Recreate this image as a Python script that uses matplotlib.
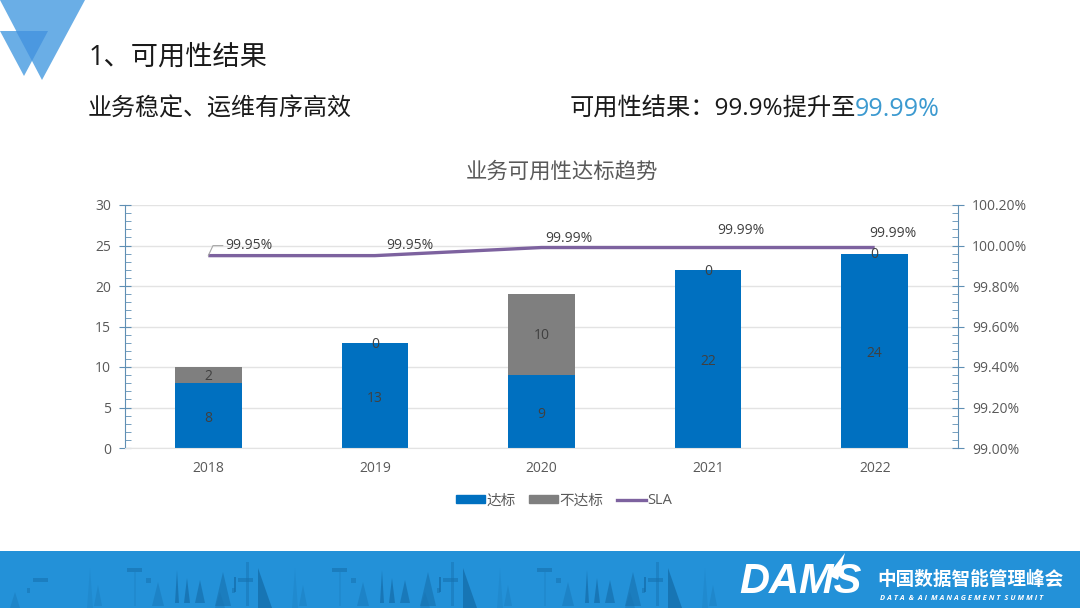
"""Availability slide: stacked bars with SLA line on a secondary axis."""

import matplotlib

matplotlib.use("Agg")
import matplotlib.pyplot as plt
from matplotlib.lines import Line2D
from matplotlib.patches import Patch, Polygon, Rectangle
from matplotlib.ticker import FuncFormatter, MultipleLocator

plt.rcParams["font.family"] = ["Open Sans", "Noto Sans CJK SC", "DejaVu Sans"]

W, H = 1080, 608

years = ["2018", "2019", "2020", "2021", "2022"]
passed = [8, 13, 9, 22, 24]
failed = [2, 0, 10, 0, 0]
sla = [99.95, 99.95, 99.99, 99.99, 99.99]
sla_label_offsets = [(41, 10), (35, 10), (27, 9), (33, 17), (18, 14)]

BLUE = "#0070C0"
GREY = "#7F7F7F"
PURPLE = "#7D629F"
TEXT = "#404040"
AXIS = "#5F8FB4"
GRID = "#E3E3E3"
BANNER = "#2391D8"
SKYLINE = "#1670AE"

# footer skyline, one repeat of the pattern: (x, half width, top y, bottom y, alpha)
spires = [
    (15, 5, 592, 608, 0.35), (90, 3, 568, 608, 0.2), (98, 4, 585, 606, 0.3),
    (158, 6, 582, 606, 0.4), (177, 2, 570, 603, 0.8), (187, 3, 578, 603, 0.8),
    (200, 5, 580, 603, 0.7),
]
# (x0, x1, y0, y1, alpha) of the small blocks and decks
blocks = [
    (27, 2.5, 588, 593, 0.5), (33, 15, 578, 582, 0.55), (127, 15, 568, 572, 0.6),
    (134, 1.5, 572, 606, 0.2), (146, 5, 578, 583, 0.5),
]
SKYLINE_PERIOD = 205


def draw_slide(fig):
    bg = fig.add_axes([0, 0, 1, 1], zorder=0)
    bg.set_xlim(0, W)
    bg.set_ylim(H, 0)
    bg.axis("off")

    # corner logo
    bg.add_patch(Polygon([(0, 0), (85, 0), (42, 80)], color="#6AAEE6", lw=0))
    bg.add_patch(Polygon([(0, 31), (48, 31), (24, 76)], color="#6AAEE6", lw=0))
    bg.add_patch(Polygon([(16, 31), (48, 31), (32, 61)], color="#4B98E0", lw=0))

    bg.text(89, 58, "1、可用性结果", fontsize=19.6, color="#1A1A1A", va="center")
    bg.text(88, 110, "业务稳定、运维有序高效", fontsize=17.3, color="#1A1A1A", va="center")
    bg.text(570, 110, "可用性结果：99.9%提升至", fontsize=17.5, color="#1A1A1A", va="center")
    bg.text(855, 110, "99.99%", fontsize=18, color="#3C9AD0", va="center")
    bg.text(561.5, 172, "业务可用性达标趋势", fontsize=15.4, color="#595959",
            ha="center", va="center")

    # footer band
    bg.add_patch(Rectangle((0, 551), W, 57, color=BANNER, lw=0))
    for shift in range(0, 4):
        off = shift * SKYLINE_PERIOD
        for x, half, top, low, alpha in spires:
            if x + off < 735:
                bg.add_patch(Polygon([(x + off - half, low), (x + off, top), (x + off + half, low)],
                                     color=SKYLINE, alpha=alpha, lw=0))
        for x, width, y0, y1, alpha in blocks:
            if x + off < 735:
                bg.add_patch(Rectangle((x + off, y0), width, y1 - y0, color=SKYLINE, alpha=alpha, lw=0))
        # the hatched tower, the tall column and the dark sail
        if off < 500:
            bg.add_patch(Polygon([(215 + off, 606), (223 + off, 572), (231 + off, 606)],
                                 color=SKYLINE, alpha=0.6, lw=0))
            bg.add_patch(Rectangle((234 + off, 577), 2, 15, color=SKYLINE, alpha=0.8, lw=0))
            bg.add_patch(Rectangle((246 + off, 562), 2.5, 44, color=SKYLINE, alpha=0.45, lw=0))
            bg.add_patch(Polygon([(258 + off, 608), (258 + off, 568), (272 + off, 608)],
                                 color=SKYLINE, alpha=0.85, lw=0))

    bg.text(739, 582, "DAMS", fontsize=30, color="white", fontweight="bold",
            style="italic", family="Liberation Sans", va="center")
    bg.add_patch(Polygon([(828, 575), (845, 553), (838, 580)], color="white", lw=0))
    bg.text(970, 580, "中国数据智能管理峰会", fontsize=13.4, color="white",
            fontweight="bold", ha="center", va="center")
    bg.text(962, 598, "D A T A  &  A I  M A N A G E M E N T  S U M M I T", fontsize=5.4,
            color="white", fontweight="bold", style="italic", family="Open Sans",
            ha="center", va="center")


def draw_chart(fig):
    left, right, top, bottom = 125, 958, 205, 448
    ax = fig.add_axes([left / W, 1 - bottom / H, (right - left) / W, (bottom - top) / H],
                      zorder=1)
    ax.patch.set_alpha(0)
    x = range(len(years))
    ax.bar(x, passed, width=0.4, color=BLUE, zorder=2)
    ax.bar(x, failed, width=0.4, bottom=passed, color=GREY, zorder=2)
    ax.set_xlim(-0.5, 4.5)
    ax.set_ylim(0, 30)
    ax.set_xticks(list(x))
    ax.set_xticklabels(years)
    ax.tick_params(axis="x", length=0, labelsize=10, labelcolor="#595959", pad=9)
    ax.yaxis.set_major_locator(MultipleLocator(5))
    ax.yaxis.set_minor_locator(MultipleLocator(1))
    ax.tick_params(axis="y", which="major", direction="inout", length=8, color=AXIS,
                   labelsize=10, labelcolor="#595959", pad=6)
    ax.tick_params(axis="y", which="minor", direction="in", length=4, color=AXIS)
    ax.grid(axis="y", which="major", color=GRID, lw=1)
    ax.set_axisbelow(True)
    for name, spine in ax.spines.items():
        spine.set_visible(name in ("left", "bottom"))
    ax.spines["left"].set_color(AXIS)
    ax.spines["bottom"].set_color(GRID)

    ax2 = ax.twinx()
    ax2.set_ylim(99.0, 100.2)
    ax2.yaxis.set_major_locator(MultipleLocator(0.2))
    ax2.yaxis.set_minor_locator(MultipleLocator(0.04))
    ax2.yaxis.set_major_formatter(FuncFormatter(lambda v, _: f"{v:.2f}%"))
    ax2.tick_params(axis="y", which="major", direction="inout", length=8, color=AXIS,
                    labelsize=10, labelcolor="#595959", pad=6)
    ax2.tick_params(axis="y", which="minor", direction="in", length=4, color=AXIS)
    for name, spine in ax2.spines.items():
        spine.set_visible(name == "right")
    ax2.spines["right"].set_color(AXIS)
    ax2.plot(list(x), sla, color=PURPLE, lw=2.4, solid_capstyle="butt", zorder=3)

    # value labels, drawn on the top axes so they sit over the line
    to_pct = 1.2 / 30
    for i in x:
        ax2.annotate(str(passed[i]), (i, 99.0 + passed[i] / 2 * to_pct), xytext=(0, -2),
                     textcoords="offset points", ha="center", va="center",
                     fontsize=10, color=TEXT)
        ax2.annotate(str(failed[i]), (i, 99.0 + (passed[i] + failed[i] / 2) * to_pct),
                     xytext=(0, -1), textcoords="offset points", ha="center", va="center",
                     fontsize=10, color=TEXT)
        dx, dy = sla_label_offsets[i]
        arrow = dict(arrowstyle="-", color="#A6A6A6", lw=0.8, shrinkA=0, shrinkB=0,
                     connectionstyle="angle,angleA=0,angleB=65") if i == 0 else None
        ax2.annotate(f"{sla[i]:.2f}%", (i, sla[i]), xytext=(dx * 0.72, dy * 0.72),
                     textcoords="offset points", ha="center", va="center",
                     fontsize=10, color=TEXT, arrowprops=arrow)

    handles = [
        Patch(color=BLUE, label="达标"),
        Patch(color=GREY, label="不达标"),
        Line2D([0], [0], color=PURPLE, lw=2.4, label="SLA"),
    ]
    fig.legend(handles=handles, loc="center", bbox_to_anchor=(564 / W, 1 - 501 / H), ncol=3,
               frameon=False, fontsize=10.5, labelcolor="#595959", handlelength=2.0,
               handleheight=0.45, handletextpad=0.1, columnspacing=0.9)


fig = plt.figure(figsize=(W / 100, H / 100), dpi=100, facecolor="white")
draw_slide(fig)
draw_chart(fig)
fig.savefig("out.png", dpi=100)
